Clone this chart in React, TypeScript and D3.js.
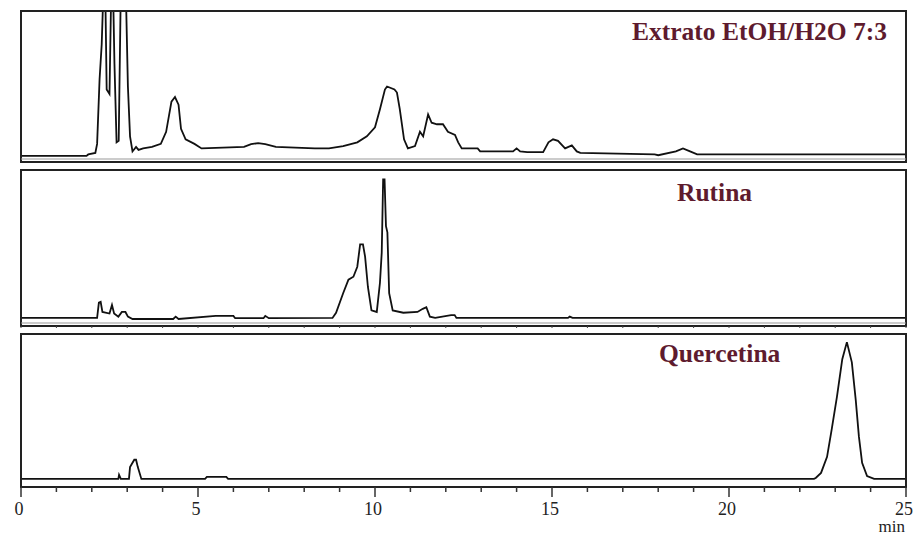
import * as d3 from 'd3'

// retention time axis (min)
const TIME_DOMAIN = [0, 25]
const MAJOR_TICKS = [0, 5, 10, 15, 20, 25]
const MINOR_TICKS = d3.range(0, 26, 1)

// Extrato EtOH/H2O 7:3  (relative intensity, panel height = 100)
const extratoT = [0, 1.85, 1.9, 2.1, 2.15, 2.22, 2.28, 2.33, 2.38, 2.42, 2.5, 2.55, 2.6, 2.64, 2.7, 2.76, 2.82, 2.96, 3.02, 3.08, 3.15, 3.25, 3.32, 3.45, 3.7, 3.95, 4.1, 4.25, 4.35, 4.45, 4.52, 4.65, 4.9, 5.1, 6.3, 6.5, 6.7, 6.9, 7.2, 8.3, 8.7, 9.1, 9.5, 9.77, 10.0, 10.14, 10.28, 10.34, 10.55, 10.62, 10.7, 10.82, 10.93, 11.13, 11.27, 11.36, 11.5, 11.6, 11.75, 11.92, 12.06, 12.26, 12.35, 12.45, 12.9, 12.97, 13.9, 14.0, 14.1, 14.3, 14.75, 14.9, 15.03, 15.17, 15.37, 15.56, 15.7, 15.8, 17.9, 18.0, 18.5, 18.7, 18.9, 19.1, 25]
const extratoV = [4, 4, 5, 6, 12, 55, 78, 115, 115, 48, 45, 115, 115, 65, 13, 14, 115, 115, 50, 17, 7, 10, 8, 9, 10, 12, 20, 40, 43, 38, 22, 15, 12, 9, 10, 11.8, 12.5, 11.8, 10, 9, 9, 10.5, 13, 17, 23, 35, 48, 50, 48, 46, 35, 15, 9, 10.5, 20, 17, 31.5, 26, 25, 25, 20, 18, 13, 9, 9, 7, 7, 9, 7, 6.5, 6.5, 13, 15, 14, 9, 11, 7, 6, 5, 4.5, 7, 9, 7, 5, 5]

// Rutina
const rutinaT = [0, 2.15, 2.2, 2.25, 2.3, 2.5, 2.57, 2.63, 2.75, 2.85, 2.95, 3.02, 3.15, 4.3, 4.37, 4.45, 5.5, 6.0, 6.05, 6.85, 6.9, 7.0, 8.8, 8.9, 9.1, 9.25, 9.39, 9.5, 9.58, 9.66, 9.72, 9.8, 9.9, 10.05, 10.14, 10.19, 10.23, 10.27, 10.31, 10.35, 10.4, 10.5, 10.8, 11.2, 11.35, 11.45, 11.55, 11.7, 12.15, 12.25, 12.3, 15.45, 15.5, 15.58, 25]
const rutinaV = [5.2, 5.2, 15, 15.5, 9, 8, 13.5, 8, 6, 9, 9, 6, 4.5, 4.5, 6, 4.5, 6.5, 6.5, 5, 5, 6.5, 5, 5.2, 8.5, 21, 29.7, 31.6, 38, 52.3, 52.3, 44.5, 25, 10, 9, 27.7, 47, 94, 94, 64, 60, 21, 10, 8.5, 9, 11, 12, 6, 5.2, 7, 7, 5.2, 5.2, 6, 5.2, 5.2]

// Quercetina
const quercetinaT = [0, 2.75, 2.77, 2.82, 3.05, 3.08, 3.2, 3.25, 3.3, 3.4, 5.2, 5.25, 5.8, 5.85, 22.4, 22.45, 22.6, 22.77, 22.9, 23.05, 23.2, 23.33, 23.47, 23.58, 23.67, 23.76, 23.9, 24.1, 25]
const quercetinaV = [5.3, 5.3, 7.9, 5.3, 5.3, 13, 17.8, 17.8, 13, 5.3, 5.3, 6.6, 6.6, 5.3, 5.3, 5.9, 9.2, 19.7, 37.5, 59, 83.5, 94.7, 81.5, 57, 32.9, 15.8, 7.2, 5.3, 5.3]

const PANEL_NAMES = ['Extrato EtOH/H2O 7:3', 'Rutina', 'Quercetina']

const W = 914
const H = 538
const SERIF = "'Liberation Serif', 'Times New Roman', serif"

const panels = [
  { name: PANEL_NAMES[0], t: extratoT, v: extratoV, top: 11, bottom: 162, lx: 632, ly: 40 },
  { name: PANEL_NAMES[1], t: rutinaT, v: rutinaV, top: 170, bottom: 326, lx: 677, ly: 201 },
  { name: PANEL_NAMES[2], t: quercetinaT, v: quercetinaV, top: 334, bottom: 487, lx: 659, ly: 362 },
]

export default function App() {
  const x = d3.scaleLinear().domain(TIME_DOMAIN).range([21, 906])
  const x0 = x(TIME_DOMAIN[0])
  const x1 = x(TIME_DOMAIN[1])
  const axisY = panels[2].bottom

  return (
    <div style={{ position: 'absolute', left: 0, top: 0, background: '#fff' }}>
      <svg width={W} height={H} style={{ display: 'block' }}>
        <rect width={W} height={H} fill="#fff" />
        <defs>
          {panels.map((p, i) => (
            <clipPath id={`clip${i}`} key={i}>
              <rect x={x0} y={p.top} width={x1 - x0} height={p.bottom - p.top} />
            </clipPath>
          ))}
        </defs>

        {panels.map((p, i) => {
          const y = d3.scaleLinear().domain([0, 100]).range([p.bottom, p.top])
          const pts = p.t.map((t, j) => [t, p.v[j]] as [number, number])
          const line = d3.line<[number, number]>()
            .x(d => x(d[0]))
            .y(d => y(d[1]))
          return (
            <g key={i}>
              <path d={line(pts) || ''} fill="none" stroke="#111" strokeWidth={1.8}
                strokeLinejoin="miter" clipPath={`url(#clip${i})`} />
              <rect x={x0} y={p.top} width={x1 - x0} height={p.bottom - p.top}
                fill="none" stroke="#222" strokeWidth={2} />
              {i < 2 && (
                <line x1={x0} x2={x1} y1={p.bottom - 3} y2={p.bottom - 3} stroke="#999" strokeWidth={1} />
              )}
              {i === 1 && MINOR_TICKS.map(t => (
                <line key={t} x1={x(t)} x2={x(t)} y1={p.bottom} y2={p.bottom + 2} stroke="#444" strokeWidth={1} />
              ))}
              <text x={p.lx} y={p.ly} fontFamily={SERIF}
                fontWeight="bold" fontSize={25.5} fill="#5e1b2e">{p.name}</text>
            </g>
          )
        })}

        {/* time axis */}
        <g>
          <line x1={x0} x2={x1} y1={axisY} y2={axisY} stroke="#222" strokeWidth={2} />
          {MINOR_TICKS.map(t => (
            <line key={t} x1={x(t)} x2={x(t)} y1={axisY} y2={axisY + (t % 5 === 0 ? 10 : 5)}
              stroke="#333" strokeWidth={1.5} />
          ))}
          {MAJOR_TICKS.map(t => (
            <text key={t} x={t === 25 ? W - 1 : x(t) - 2} y={515}
              textAnchor={t === 25 ? 'end' : 'middle'}
              fontFamily={SERIF} fontSize={18} fill="#222">{t}</text>
          ))}
          <text x={905} y={532} textAnchor="end"
            fontFamily={SERIF} fontSize={17} fill="#222">min</text>
        </g>
      </svg>
    </div>
  )
}
